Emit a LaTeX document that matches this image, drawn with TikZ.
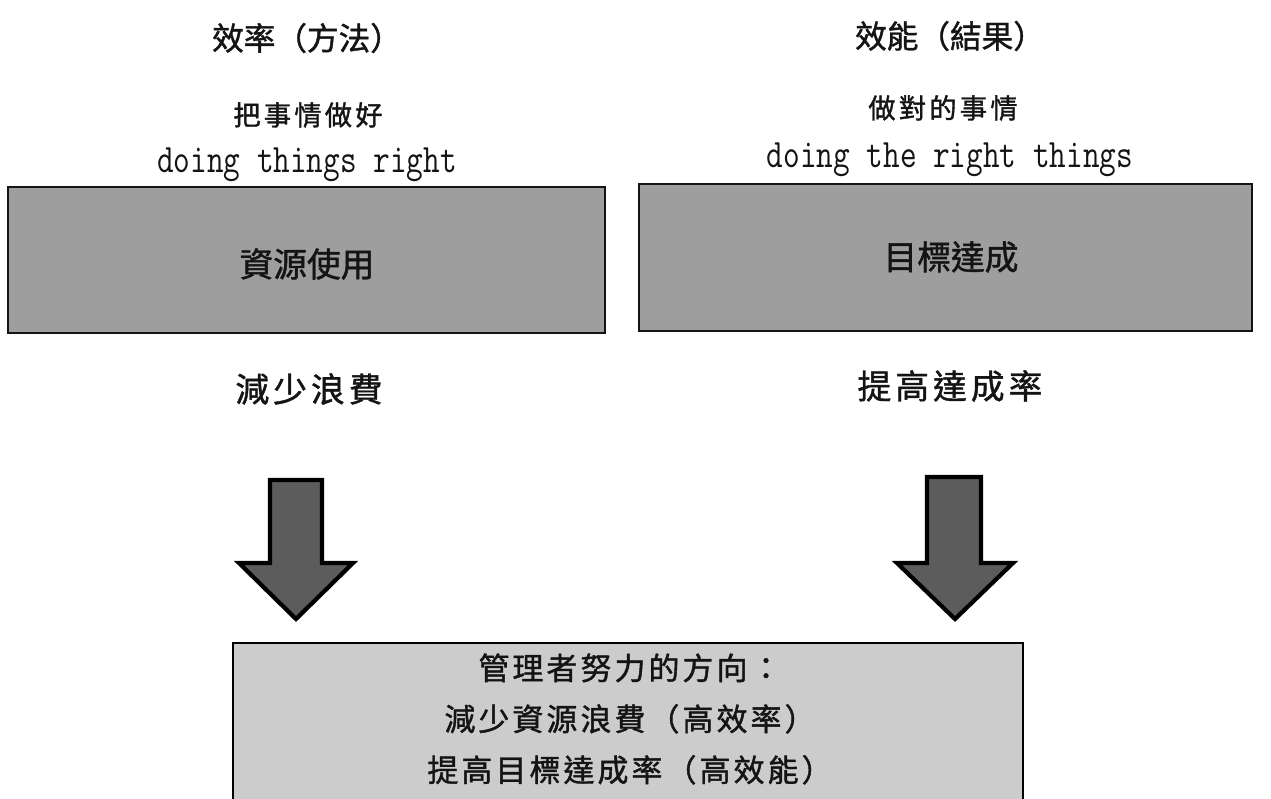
\documentclass[tikz,border=0pt]{standalone}
\usepackage{fontspec}
\newfontfamily\cjk[FakeBold=1.3]{Noto Sans CJK TC}
\setmonofont[FakeStretch=0.8]{Latin Modern Mono}
\definecolor{boxgray}{RGB}{158,158,158}
\definecolor{lightbox}{RGB}{204,204,204}
\definecolor{arrowgray}{RGB}{92,92,92}
\definecolor{ink}{RGB}{20,20,20}
\tikzset{
  title/.style={text=ink,inner sep=0pt,font=\cjk\fontsize{18pt}{20pt}\selectfont},
  subtitle/.style={text=ink,inner sep=0pt,font=\cjk\fontsize{15.5pt}{18pt}\selectfont\addfontfeatures{LetterSpace=12}},
  english/.style={text=ink,inner sep=0pt,anchor=base,font=\ttfamily\fontsize{23pt}{26pt}\selectfont},
  graybox/.style={draw=ink,line width=1.4pt,fill=boxgray,inner sep=0pt},
  boxtext/.style={text=ink,inner sep=0pt,font=\cjk\fontsize{19.2pt}{22pt}\selectfont},
  result/.style={text=ink,inner sep=0pt,font=\cjk\fontsize{19.2pt}{22pt}\selectfont\addfontfeatures{LetterSpace=12}},
  bigarrow/.style={draw=black,line width=2.4pt,line join=miter,fill=arrowgray},
  bottombox/.style={draw=black,line width=1.6pt,fill=lightbox},
  bottomtext/.style={text=ink,inner sep=0pt,align=center,font=\cjk\fontsize{17.6pt}{29pt}\selectfont\addfontfeatures{LetterSpace=10}}
}
\begin{document}
\begin{tikzpicture}[x=0.02cm,y=-0.02cm]
\useasboundingbox (0,0) rectangle (1271,798);
\fill[white] (0,0) rectangle (1271,798);

% left column
\node[title] (t1) at (307,38) {效率（方法）};
\node[subtitle] (s1) at (308,115) {把事情做好};
\node[english] (e1) at (307,172) {doing things right};
\draw[graybox] (8,187) rectangle (605,333);
\node[boxtext] (b1) at (307,264) {資源使用};
\node[result] (r1) at (309,389) {減少浪費};

% right column
\node[title] (t2) at (950,36) {效能（結果）};
\node[subtitle] (s2) at (943,108) {做對的事情};
\node[english] (e2) at (950,167) {doing the right things};
\draw[graybox] (639,184) rectangle (1252,331);
\node[boxtext] (b2) at (951,257) {目標達成};
\node[result] (r2) at (950,386) {提高達成率};

% arrows
\draw[bigarrow] (270,480) -- (322,480) -- (322,563) -- (353,563) -- (296,619)
  -- (239,563) -- (270,563) -- cycle;
\draw[bigarrow] (927,477) -- (981,477) -- (981,563) -- (1013,563) -- (955,619)
  -- (897,563) -- (927,563) -- cycle;

% bottom box
\draw[bottombox] (233,643) rectangle (1023,830);
\node[bottomtext] (m) at (630,719) {管理者努力的方向：\\減少資源浪費（高效率）\\提高目標達成率（高效能）};
\end{tikzpicture}
\end{document}
